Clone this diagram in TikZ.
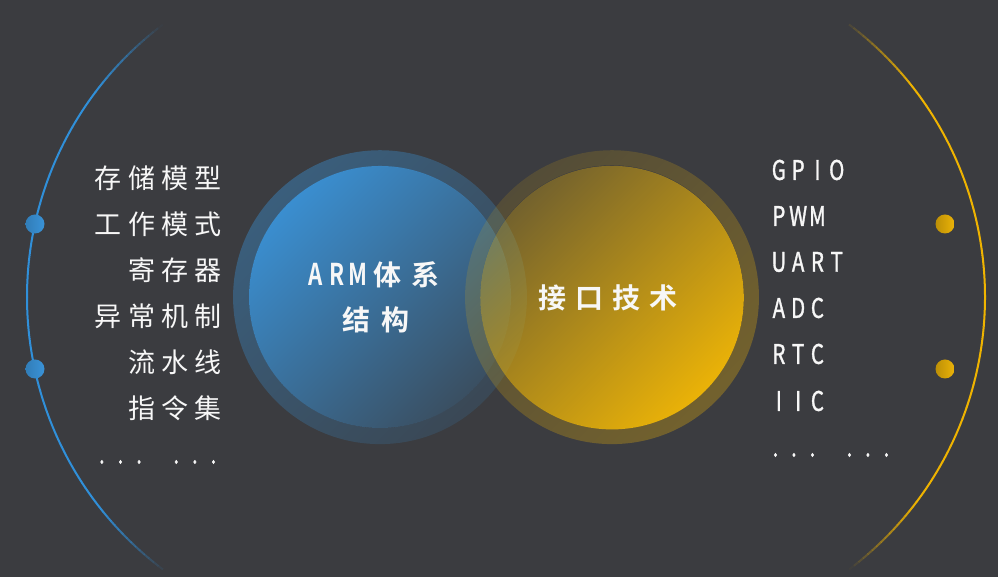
\documentclass[tikz,border=0pt]{standalone}
\usepackage{fontspec}
\usetikzlibrary{fadings}
\newfontfamily\cjk{Noto Sans CJK SC}
\newfontfamily\cjkb{Noto Sans CJK SC Bold}
\newfontfamily\lat{Noto Sans CJK SC}[FakeStretch=0.76, FakeBold=1.2]
\newfontfamily\latb{Noto Sans CJK SC Bold}[FakeStretch=0.74]
\definecolor{bgc}{HTML}{3B3C40}
\definecolor{blueC}{HTML}{3A93D8}
\definecolor{yellowC}{HTML}{EBB308}
\definecolor{arcBlue}{HTML}{3090DA}
\definecolor{arcYellow}{HTML}{F0B400}
\definecolor{txtC}{HTML}{F7F7F7}
\newlength\spw
\def\spread#1#2{\setlength\spw{#1}\spreadaux#2\relax}
\def\spreadaux#1{\ifx\relax#1\else\makebox[\spw][c]{#1}\expandafter\spreadaux\fi}
\tikzfading[name=bluefade, top color=transparent!5, bottom color=transparent!78]
\tikzfading[name=bluehalo, top color=transparent!60, bottom color=transparent!86]
\tikzfading[name=yellowfade, top color=transparent!68, bottom color=transparent!0]
\tikzfading[name=yellowhalo, top color=transparent!86, bottom color=transparent!68]
\tikzset{
  lefttxt/.style={anchor=east, inner sep=0pt, text=txtC, font=\cjk\fontsize{27}{30}\selectfont},
  righttxt/.style={anchor=west, inner sep=0pt, text=txtC, font=\lat\fontsize{27}{30}\selectfont},
  ctxt/.style={inner sep=0pt, text=txtC, font=\cjkb\fontsize{28}{30}\selectfont},
  bluedot/.style={circle, inner sep=0pt, minimum size=19pt, left color=blueC!85!black, right color=blueC},
  yellowdot/.style={circle, inner sep=0pt, minimum size=19pt, left color=yellowC!80!black, right color=yellowC}
}
\begin{document}
\begin{tikzpicture}[x=1pt,y=1pt]
\fill[bgc] (0,0) rectangle (998,577);
\path[use as bounding box] (0,0) rectangle (998,577);
\coordinate (bc) at (380,280);
\coordinate (yc) at (612,280);
\coordinate (lac) at (368,280);
\coordinate (rac) at (644,280);
% outer arcs with faded ends
\foreach \a in {127,...,232}{
  \pgfmathsetmacro\op{min(1,2.2*sin((\a-126.5)/107*180))}
  \draw[line width=2pt, arcBlue, draw opacity=\op] (lac) ++(\a:341) arc[start angle=\a, end angle=\a+1.05, radius=341pt];
}
\foreach \a in {-53,...,52}{
  \pgfmathsetmacro\op{min(1,2.2*sin((\a+53.5)/107*180))}
  \draw[line width=2pt, arcYellow, draw opacity=\op] (rac) ++(\a:341) arc[start angle=\a, end angle=\a+1.05, radius=341pt];
}
% dots
\node[bluedot] (ld1) at (35,353) {};
\node[bluedot] (ld2) at (35,208) {};
\node[yellowdot] (rd1) at (945,353) {};
\node[yellowdot] (rd2) at (945,208) {};
% blue circle
\fill[blueC, even odd rule, path fading=bluehalo, fading angle=45] (bc) circle[radius=147pt] (bc) circle[radius=131pt];
\fill[blueC, path fading=bluefade, fading angle=45] (bc) circle[radius=131pt];
% yellow circle
\fill[yellowC, even odd rule, path fading=yellowhalo, fading angle=45] (yc) circle[radius=147pt] (yc) circle[radius=132pt];
\fill[yellowC, path fading=yellowfade, fading angle=45] (yc) circle[radius=132pt];
% circle texts
\node[ctxt] (arm1) at (375,302) {{\latb\fontsize{30}{30}\selectfont\spread{21pt}{ARM}}\spread{38pt}{体系}};
\node[ctxt] (arm2) at (376,257) {\spread{39pt}{结构}};
\node[ctxt] (itf) at (608,279) {\spread{37pt}{接口技术}};
% left list
\node[lefttxt] (l1) at (225,399) {\spread{33.3pt}{存储模型}};
\node[lefttxt] (l2) at (225,353) {\spread{33.3pt}{工作模式}};
\node[lefttxt] (l3) at (225,307) {\spread{33.3pt}{寄存器}};
\node[lefttxt] (l4) at (225,261) {\spread{33.3pt}{异常机制}};
\node[lefttxt] (l5) at (225,215) {\spread{33.3pt}{流水线}};
\node[lefttxt] (l6) at (225,169) {\spread{33.3pt}{指令集}};
\node[righttxt, anchor=west] (l7) at (92.4,115) {\spread{18.6pt}{...}\hspace{18.6pt}\spread{18.6pt}{...}};
% right list
\node[righttxt] (r1) at (769,407) {\spread{19.3pt}{GPIO}};
\node[righttxt] (r2) at (769,361) {\spread{19.3pt}{PWM}};
\node[righttxt] (r3) at (769,315) {\spread{19.3pt}{UART}};
\node[righttxt] (r4) at (769,269) {\spread{19.3pt}{ADC}};
\node[righttxt] (r5) at (769,223) {\spread{19.3pt}{RTC}};
\node[righttxt] (r6) at (769,176) {\spread{19.3pt}{IIC}};
\node[righttxt] (r7) at (766,122) {\spread{18.5pt}{...}\hspace{18.5pt}\spread{18.5pt}{...}};
\end{tikzpicture}
\end{document}
